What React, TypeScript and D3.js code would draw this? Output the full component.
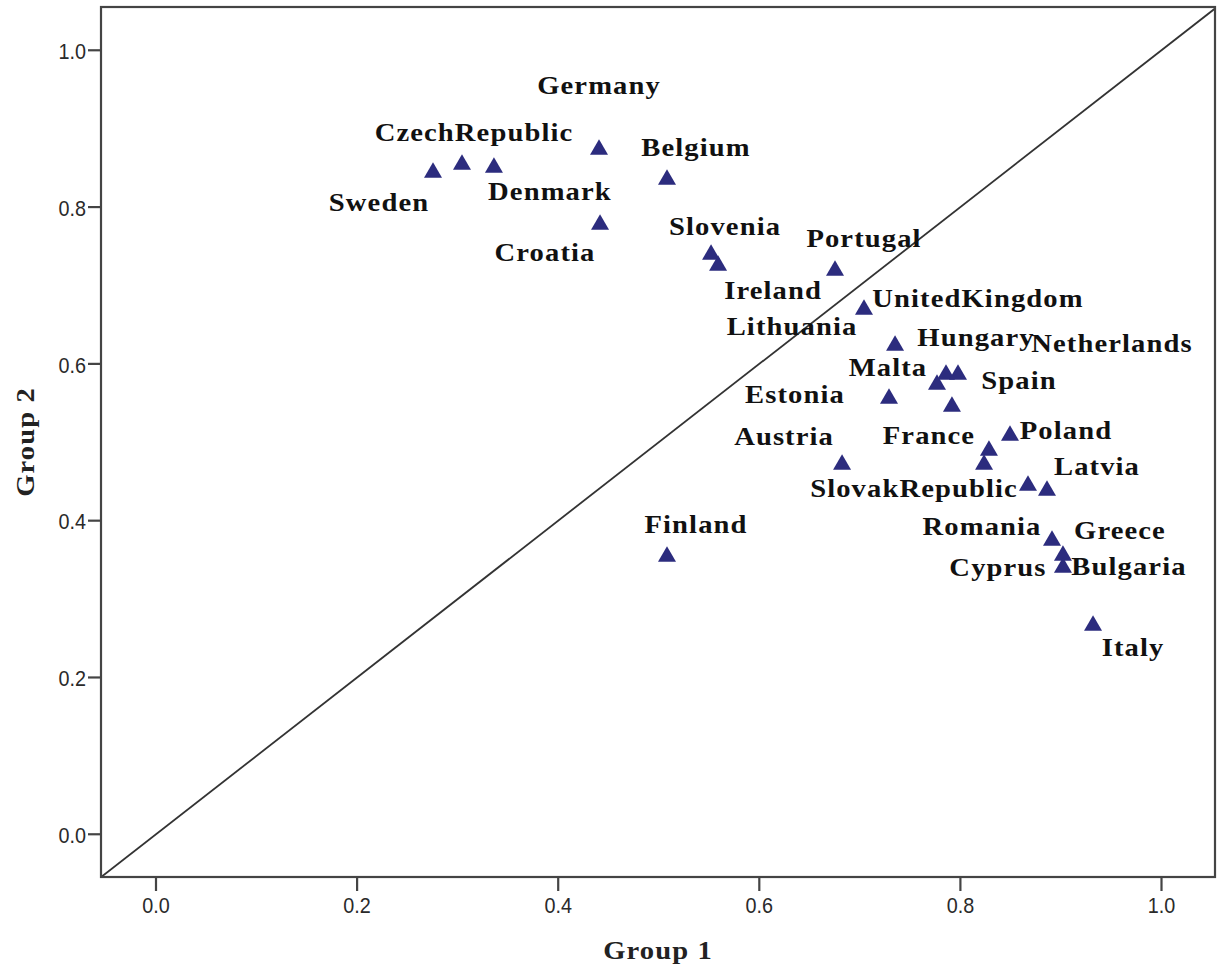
import React from "react";
import * as d3 from "d3";

// ---- data ----
const countries = [
  "Sweden", "CzechRepublic", "Denmark", "Germany", "Belgium", "Croatia",
  "Slovenia", "Ireland", "Portugal", "UnitedKingdom", "Lithuania", "Hungary",
  "Netherlands", "Malta", "Estonia", "Spain", "Poland", "France", "Romania",
  "Austria", "SlovakRepublic", "Latvia", "Greece", "Cyprus", "Bulgaria",
  "Finland", "Italy",
];
const group1 = [
  0.2755, 0.3043, 0.3361, 0.4406, 0.5082, 0.4416,
  0.552, 0.559, 0.6753, 0.7041, 0.735, 0.7857,
  0.7976, 0.7767, 0.729, 0.7916, 0.8493, 0.8284, 0.8235,
  0.6823, 0.8672, 0.8861, 0.8911, 0.902, 0.902,
  0.5082, 0.9319,
];
const group2 = [
  0.8473, 0.8575, 0.8537, 0.8767, 0.8384, 0.781,
  0.7427, 0.7287, 0.7223, 0.6726, 0.6267, 0.5897,
  0.5897, 0.5769, 0.5591, 0.5489, 0.5119, 0.4927, 0.4749,
  0.4749, 0.4481, 0.4417, 0.3779, 0.3588, 0.3435,
  0.3575, 0.2695,
];
const xTicks = [0, 0.2, 0.4, 0.6, 0.8, 1.0];
const yTicks = [0, 0.2, 0.4, 0.6, 0.8, 1.0];
const xTitle = "Group 1";
const yTitle = "Group 2";

// ---- layout (label placement offsets in px, centre of label relative to marker) ----
const labelOffsets: [number, number][] = [
  [-54, 33], [12, -29], [56, 27], [0, -61], [29, -29], [-55, 31],
  [14, -25], [55, 28], [29, -29], [114, -8], [-103, -16], [30, -34],
  [154, -28], [-49, -14], [-94, -1], [67, -23], [56, -2], [-60, -12], [-2, 65],
  [-58, -25], [-114, 6], [50, -21], [68, -8], [-65, 15], [66, 2],
  [29, -29], [40, 25],
];

const W = 1218;
const H = 973;
const plot = { left: 101, right: 1215, top: 7, bottom: 877 };

export default function App() {
  const x = d3.scaleLinear().domain([-0.0547, 1.0532]).range([plot.left, plot.right]);
  const y = d3.scaleLinear().domain([-0.0545, 1.0552]).range([plot.bottom, plot.top]);
  const triSide = 18;
  const triArea = (Math.sqrt(3) / 4) * triSide * triSide;
  const triH = (Math.sqrt(3) / 2) * triSide;
  const tri = d3.symbol().type(d3.symbolTriangle).size(triArea)() as string;

  const dLo = Math.max(x.domain()[0], y.domain()[0]);
  const dHi = Math.min(x.domain()[1], y.domain()[1]);
  const line = d3.line<number>().x((v) => x(v)).y((v) => y(v));

  const labelFont = "'Liberation Serif', 'Times New Roman', serif";
  const tickFont = "'Liberation Sans', Arial, sans-serif";
  const sx = 1.1;

  return (
    <svg
      width={W}
      height={H}
      style={{ position: "absolute", left: 0, top: 0, background: "#fff" }}
    >
      <rect x={0} y={0} width={W} height={H} fill="#fff" />
      <defs>
        <clipPath id="plotClip">
          <rect x={plot.left} y={plot.top} width={plot.right - plot.left} height={plot.bottom - plot.top} />
        </clipPath>
      </defs>

      {/* reference diagonal */}
      <path
        d={line([dLo, dHi]) as string}
        stroke="#333"
        strokeWidth={1.8}
        fill="none"
        clipPath="url(#plotClip)"
      />

      {/* frame */}
      <rect
        x={plot.left}
        y={plot.top}
        width={plot.right - plot.left}
        height={plot.bottom - plot.top}
        fill="none"
        stroke="#444"
        strokeWidth={2.2}
      />

      {/* y axis ticks */}
      {yTicks.map((t) => (
        <g key={"y" + t}>
          <line x1={plot.left - 13} x2={plot.left} y1={y(t)} y2={y(t)} stroke="#444" strokeWidth={2.2} />
          <text
            transform={`translate(${plot.left - 15}, ${y(t) + 3}) scale(0.9, 1)`}
            textAnchor="end"
            dominantBaseline="middle"
            fontFamily={tickFont}
            fontSize={22}
            fill="#2a2a2a"
          >
            {d3.format(".1f")(t)}
          </text>
        </g>
      ))}

      {/* x axis ticks */}
      {xTicks.map((t) => (
        <g key={"x" + t}>
          <line x1={x(t)} x2={x(t)} y1={plot.bottom} y2={plot.bottom + 14} stroke="#444" strokeWidth={2.2} />
          <text
            transform={`translate(${x(t)}, 907) scale(0.9, 1)`}
            textAnchor="middle"
            dominantBaseline="middle"
            fontFamily={tickFont}
            fontSize={22}
            fill="#2a2a2a"
          >
            {d3.format(".1f")(t)}
          </text>
        </g>
      ))}

      {/* axis titles */}
      <text
        transform={`translate(${(plot.left + plot.right) / 2}, 959) scale(${sx}, 1)`}
        textAnchor="middle"
        fontFamily={labelFont}
        fontWeight="bold"
        fontSize={26}
        letterSpacing={1}
        fill="#222"
      >
        {xTitle}
      </text>
      <text
        transform={`translate(34, ${(plot.top + plot.bottom) / 2}) rotate(-90) scale(${sx}, 1)`}
        textAnchor="middle"
        fontFamily={labelFont}
        fontWeight="bold"
        fontSize={26}
        letterSpacing={1}
        fill="#222"
      >
        {yTitle}
      </text>

      {/* markers */}
      {countries.map((c, i) => (
        <path
          key={"m" + c}
          d={tri}
          transform={`translate(${x(group1[i])}, ${y(group2[i]) + triH / 6})`}
          fill="#2c2c7e"
        />
      ))}

      {/* labels */}
      {countries.map((c, i) => (
        <text
          key={"l" + c}
          transform={`translate(${x(group1[i]) + labelOffsets[i][0]}, ${y(group2[i]) + labelOffsets[i][1] + 8.5}) scale(${sx}, 1)`}
          textAnchor="middle"
          fontFamily={labelFont}
          fontWeight="bold"
          fontSize={26}
          letterSpacing={1}
          fill="#111"
        >
          {c}
        </text>
      ))}
    </svg>
  );
}
